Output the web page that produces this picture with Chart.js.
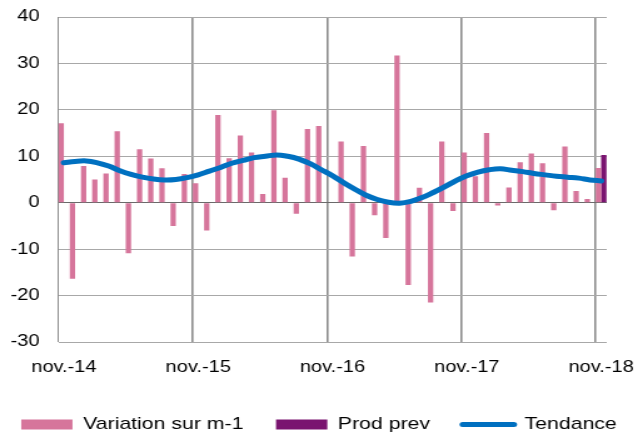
<!DOCTYPE html>
<html>
<head>
<meta charset="utf-8">
<script src="https://cdn.jsdelivr.net/npm/chart.js@4.4.0/dist/chart.umd.min.js"></script>
<style>
  html, body { margin: 0; padding: 0; background: #fff; overflow: hidden; }
  /* the source picture is stretched sideways, so draw narrow and stretch */
  #wrap { width: 510px; height: 439px; transform: scaleX(1.251); transform-origin: 0 0; }
</style>
</head>
<body>
<div id="wrap"><canvas id="chart"></canvas></div>
<script>
var months = [
  "nov.-14", "déc.-14", "janv.-15", "févr.-15", "mars-15", "avr.-15", "mai-15", "juin-15", "juil.-15", "août-15", "sept.-15", "oct.-15",
  "nov.-15", "déc.-15", "janv.-16", "févr.-16", "mars-16", "avr.-16", "mai-16", "juin-16", "juil.-16", "août-16", "sept.-16", "oct.-16",
  "nov.-16", "déc.-16", "janv.-17", "févr.-17", "mars-17", "avr.-17", "mai-17", "juin-17", "juil.-17", "août-17", "sept.-17", "oct.-17",
  "nov.-17", "déc.-17", "janv.-18", "févr.-18", "mars-18", "avr.-18", "mai-18", "juin-18", "juil.-18", "août-18", "sept.-18", "oct.-18",
  "nov.-18"
];
var variation = [
  17.1, -16.4, 7.9, 5.0, 6.3, 15.4, -10.9, 11.5, 9.5, 7.4, -5.0, 6.2,
  4.2, -6.0, 18.9, 9.6, 14.5, 10.8, 1.9, 19.9, 5.4, -2.4, 15.9, 16.5,
  0.0, 13.2, -11.6, 12.2, -2.7, -7.6, 31.7, -17.7, 3.2, -21.5, 13.2, -1.8,
  10.8, 5.7, 15.0, -0.6, 3.3, 8.7, 10.6, 8.5, -1.6, 12.1, 2.5, 0.8,
  7.5
];
var tendance = [
  8.6, 8.9, 9.0, 8.6, 7.9, 6.9, 6.1, 5.5, 5.1, 4.9, 5.0, 5.4,
  6.0, 6.8, 7.6, 8.5, 9.1, 9.7, 10.0, 10.3, 10.0, 9.4, 8.4, 7.1,
  5.8, 4.3, 2.9, 1.6, 0.7, 0.1, -0.1, 0.3, 1.1, 2.2, 3.4, 4.7,
  5.8, 6.6, 7.1, 7.3, 7.0, 6.7, 6.3, 6.0, 5.7, 5.5, 5.3, 4.9,
  4.7
];
var prodPrevValue = 10.3;
var yMin = -30;
var yMax = 40;
var yStep = 10;

// only the last month has a forecast
var prodPrev = months.map(function (m, i) {
  return i === months.length - 1 ? prodPrevValue : null;
});

var pink = "rgb(214,117,155)";
var purple = "rgb(122,20,112)";
var blue = "rgb(0,112,192)";

Chart.defaults.font.family = "'Liberation Sans', Arial, sans-serif";
Chart.defaults.font.size = 16;
Chart.defaults.color = "#000";

var ctx = document.getElementById("chart").getContext("2d");
var chart = new Chart(ctx, {
  type: "bar",
  data: {
    labels: months,
    datasets: [
      {
        type: "line",
        label: "Tendance",
        data: tendance,
        borderColor: blue,
        backgroundColor: blue,
        borderWidth: 5,
        borderCapStyle: "round",
        pointRadius: 0,
        tension: 0.4,
        fill: false,
        order: 0,
      },
      {
        label: "Variation sur m-1",
        data: variation,
        backgroundColor: pink,
        categoryPercentage: 0.95,
        barPercentage: 1,
        order: 1,
      },
      {
        label: "Prod prev",
        data: prodPrev,
        backgroundColor: purple,
        categoryPercentage: 0.95,
        barPercentage: 1,
        order: 2,
      },
    ],
  },
  options: {
    responsive: true,
    maintainAspectRatio: false,
    animation: false,
    // negative sides give the one-row legend some room, axes set the plot edges
    layout: {
      padding: { top: 17, left: -12, right: -12, bottom: -4 },
    },
    plugins: {
      tooltip: { enabled: false },
      legend: {
        position: "bottom",
        labels: {
          usePointStyle: true,
          pointStyleWidth: 41,
          boxHeight: 10,
          padding: 26,
          color: "#000",
          font: { size: 17 },
          generateLabels: function (c) {
            var ds = c.data.datasets;
            return [
              { text: ds[1].label, fillStyle: pink, strokeStyle: pink, lineWidth: 0, pointStyle: "rect", datasetIndex: 1 },
              { text: ds[2].label, fillStyle: purple, strokeStyle: purple, lineWidth: 0, pointStyle: "rect", datasetIndex: 2 },
              { text: ds[0].label, fillStyle: blue, strokeStyle: blue, lineWidth: 5, lineCap: "round", pointStyle: "line", datasetIndex: 0 },
            ];
          },
        },
      },
    },
    scales: {
      x: {
        offset: true,
        border: { display: false },
        grid: {
          offset: true,
          drawTicks: false,
          color: function (c) {
            return c.index % 12 === 0 && c.index < months.length ? "#8c8c8c" : "rgba(0,0,0,0)";
          },
          lineWidth: function (c) {
            return c.index === 0 ? 1 : 1.6;
          },
        },
        ticks: {
          autoSkip: false,
          maxRotation: 0,
          minRotation: 0,
          padding: 16,
          callback: function (value, index) {
            return index % 12 === 0 ? months[index] : "";
          },
        },
        afterFit: function (axis) {
          axis.height = 48;
          axis.paddingLeft = 0;
          axis.paddingRight = 25;
        },
      },
      y: {
        min: yMin,
        max: yMax,
        border: { display: false },
        ticks: {
          stepSize: yStep,
          padding: 15,
        },
        grid: {
          drawTicks: false,
          color: function (c) {
            return c.tick && c.tick.value === 0 ? "#6a6a6a" : "#a8a8a8";
          },
          lineWidth: 1,
        },
        afterFit: function (axis) {
          axis.width = 58.6;
          axis.paddingTop = 0;
          axis.paddingBottom = 0;
        },
      },
    },
  },
});
</script>
</body>
</html>
